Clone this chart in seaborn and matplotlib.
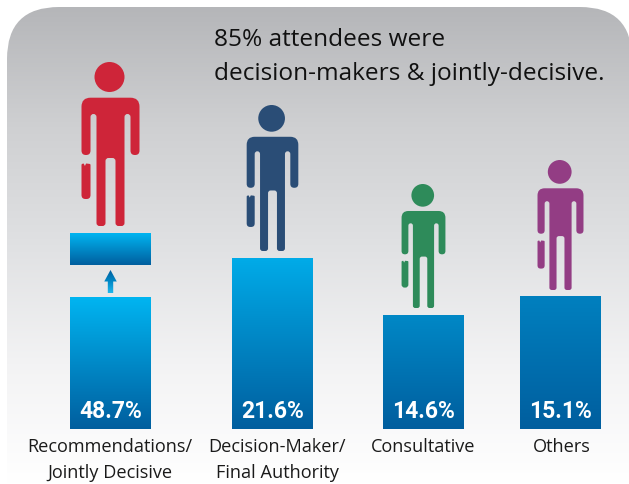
import numpy as np
import pandas as pd
import seaborn as sns
import matplotlib.pyplot as plt
import matplotlib.patches as mpatches
from matplotlib.path import Path
from matplotlib.colors import to_rgb

# Data
categories = ["Recommendations/\nJointly Decisive", "Decision-Maker/\nFinal Authority", "Consultative", "Others"]
shares = [48.7, 21.6, 14.6, 15.1]
# drawn bar heights in the graphic (px), the picture is not to scale
bar_heights = [132, 171, 114, 133]
bar_centers = [110.5, 272.5, 423.5, 560.5]
bar_tops = ["#00B5F1", "#00ABE8", "#0088C6", "#0080BF"]
person_colors = ["#CE2539", "#2A4D76", "#2E8B5A", "#933D84"]
person_heights = [164, 146, 124, 130]
label_centers = [110, 277, 423, 561.5]

BAR_BOTTOM = "#005E9E"
W, H = 629, 484
BASE = 429  # pixel row of the bar baseline

sns.set_theme(style="white")
plt.rcParams['font.family'] = ['Open Sans', 'DejaVu Sans']


def py(row):
    # picture row to y value
    return BASE - row


def rounded_path(points):
    # closed path from (x, y, radius) corners
    verts, codes = [], []
    n = len(points)
    for i in range(n):
        p = np.array(points[i][:2], dtype=float)
        a = np.array(points[i - 1][:2], dtype=float)
        b = np.array(points[(i + 1) % n][:2], dtype=float)
        r = points[i][2]
        p1 = p + r * (a - p) / np.linalg.norm(a - p)
        p2 = p + r * (b - p) / np.linalg.norm(b - p)
        verts += [p1, p, p2]
        codes += [Path.MOVETO if i == 0 else Path.LINETO, Path.CURVE3, Path.CURVE3]
    verts.append(verts[0])
    codes.append(Path.CLOSEPOLY)
    return Path(verts, codes)


def gradient(ax, clip, extent, stops, zorder):
    # vertical colour ramp clipped to a patch, stops go top to bottom
    rows = np.linspace(0, 1, 256)
    where = np.linspace(0, 1, len(stops))
    rgb = np.array([to_rgb(c) for c in stops])
    img = np.stack([np.interp(rows, where, rgb[:, k]) for k in range(3)], axis=1)[:, None, :]
    im = ax.imshow(img, extent=extent, aspect="auto", zorder=zorder, interpolation="bilinear")
    im.set_clip_path(clip)


# outline in px from the top of the tallest figure, centre line at x = 0
BODY = [(-29, 35.7, 9), (29, 35.7, 9), (29, 93, 4.4), (20, 93, 4.4), (20, 52, 3), (14, 52, 3),
        (14, 164, 3), (5, 164, 3), (5, 96, 3), (-5, 96, 3), (-5, 164, 3), (-14, 164, 3),
        (-14, 52, 3), (-20, 52, 3), (-20, 93, 4.4), (-29, 93, 4.4)]
CASE = [(-29, 102, 1), (-26.8, 101.5, 0.3), (-25.6, 104, 0.3), (-24.4, 101.5, 0.3), (-20, 102, 1),
        (-20, 137, 4), (-29, 137, 4)]


def person(ax, cx, feet, height, color):
    s = height / 164
    for shape in (BODY, CASE):
        path = rounded_path([(cx + s * x, feet + s * (164 - y), s * r) for x, y, r in shape])
        ax.add_patch(mpatches.PathPatch(path, fc=color, ec="none", zorder=4))
    ax.add_patch(mpatches.Circle((cx - s, feet + s * (164 - 15)), 15 * s, fc=color, ec="none", zorder=4))


fig = plt.figure(figsize=(W / 100, H / 100), dpi=100)
ax = fig.add_axes([0, 0, 1, 1])

df = pd.DataFrame({"center": bar_centers, "height": bar_heights})
sns.barplot(data=df, x="center", y="height", native_scale=True, width=81 / 137,
            color="#0088C6", linewidth=0, ax=ax, zorder=2)
bars = list(ax.patches)

# rounded panel behind everything
panel = mpatches.FancyBboxPatch((7 + 52, py(560)), 521, 560 - 7 - 52,
                                boxstyle="round,pad=52", fc="none", ec="none", zorder=0)
ax.add_patch(panel)
gradient(ax, panel, (0, 660, py(484), py(7)),
         ["#B5B6B9", "#CFD0D2", "#E0E1E3", "#F3F3F4", "#FFFFFF"], 0)

# gradient bars
for bar, top in zip(bars, bar_tops):
    x0, w, h = bar.get_x(), bar.get_width(), bar.get_height()
    bar.set_facecolor("none")
    gradient(ax, bar, (x0, x0 + w, 0, h), [top, BAR_BOTTOM], 2)

# raised piece and arrow above the first bar
piece = ax.bar(bar_centers[0], 32, width=81, bottom=py(265), fc="none", lw=0, zorder=2)[0]
gradient(ax, piece, (70, 151, py(265), py(233)), ["#00B5F1", BAR_BOTTOM], 2)
arrow = mpatches.FancyArrow(bar_centers[0], py(293), 0, 23, width=5.4, head_width=12.5, head_length=11.5,
                            length_includes_head=True, fc="none", ec="none", zorder=3)
ax.add_patch(arrow)
gradient(ax, arrow, (100, 120, py(293), py(270)), ["#005E9E", "#0088C6", "#1FB8EE"], 3)

feet = [py(226), py(251), py(308), py(290)]
for cx, f, h, c in zip(bar_centers, feet, person_heights, person_colors):
    person(ax, cx, f, h, c)

for cx, v in zip(bar_centers, shares):
    ax.text(cx, py(418), f"{v}%", color="white", fontsize=16.5, fontweight="bold", family=["Roboto", "DejaVu Sans"],
            ha="center", va="baseline", zorder=5)

for cx, name in zip(label_centers, categories):
    for k, line in enumerate(name.split("\n")):
        ax.text(cx, py(452 + 26 * k), line, color="#1A1A1A", fontsize=13.1,
                ha="center", va="baseline", zorder=5)

ax.text(214, py(46.5), "85% attendees were", color="#111111", fontsize=17.6, ha="left", va="baseline", zorder=5)
ax.text(214, py(79.5), "decision-makers & jointly-decisive.", color="#111111", fontsize=17.6,
        ha="left", va="baseline", zorder=5)

ax.set_xlim(0, W)
ax.set_ylim(py(H), py(0))
ax.axis("off")
fig.savefig("out.png", dpi=100, facecolor="white")
